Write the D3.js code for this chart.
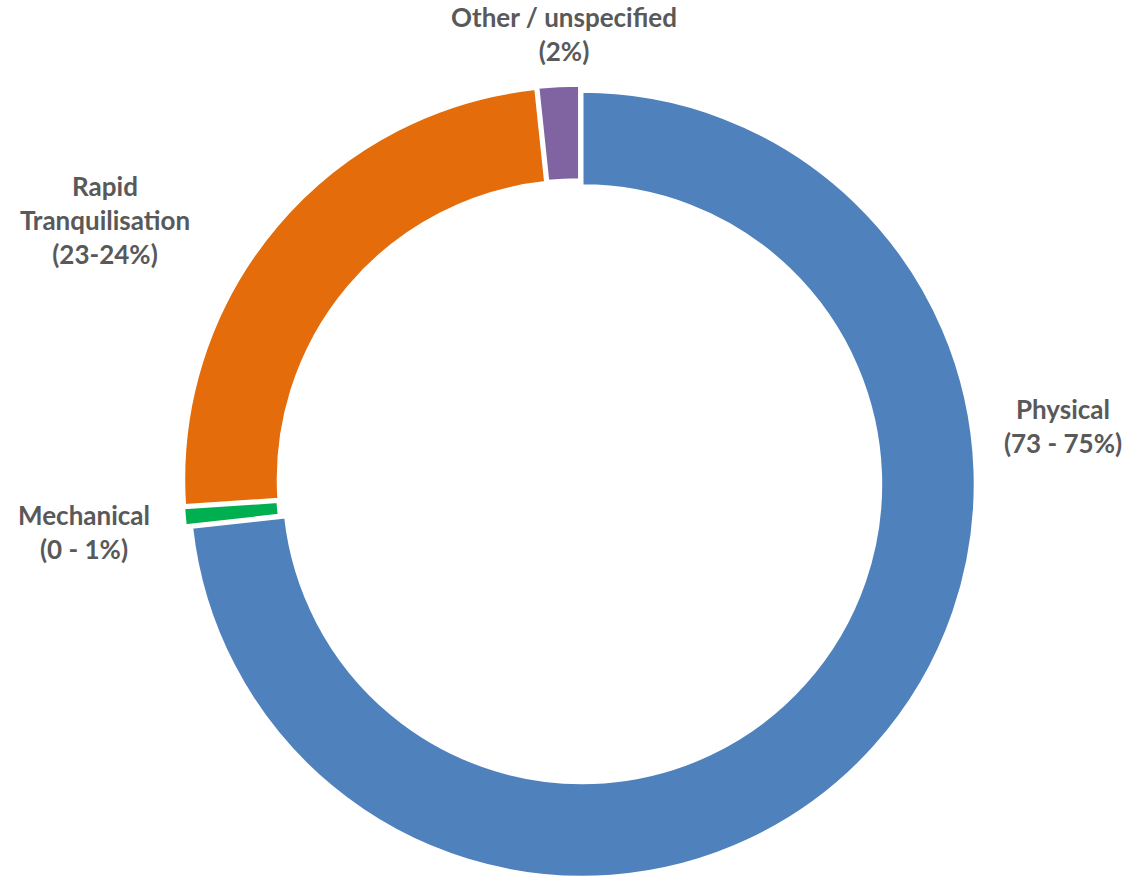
<!DOCTYPE html>
<html>
<head>
<meta charset="utf-8">
<script src="https://cdn.jsdelivr.net/npm/d3@7"></script>
<style>
  html, body { margin: 0; padding: 0; background: #ffffff; }
  svg { display: block; }
</style>
</head>
<body>
<svg id="chart" width="1126" height="877"></svg>
<script>
// ---- data ----
const categories = ["Physical", "Mechanical", "Rapid Tranquilisation", "Other / unspecified"];
const values = [73.24, 0.71, 24.38, 1.67];
const labelLines = [
  ["Physical", "(73 - 75%)"],
  ["Mechanical", "(0 - 1%)"],
  ["Rapid", "Tranquilisation", "(23-24%)"],
  ["Other / unspecified", "(2%)"]
];
const colors = ["#4F81BD", "#00B050", "#E46C0A", "#8064A2"];

// ---- layout (not data) ----
const W = 1126, H = 877;
const cx = 579.5, cy = 481.8;
const outerR = 392.7, innerR = 298.7;
const explode = 3.7;
const labelAnchors = [ // [centre x, first baseline y]
  [1063, 419],
  [84, 525],
  [105, 196],
  [564, 27]
];
const lineH = 34;

const svg = d3.select("#chart");
svg.append("rect").attr("width", W).attr("height", H).attr("fill", "#fff");

const pie = d3.pie().sort(null).value(d => d.v);
const data = categories.map((c, i) => ({ c, v: values[i], i }));
const arcs = pie(data);
const arc = d3.arc().innerRadius(innerR).outerRadius(outerR);

const g = svg.append("g").attr("transform", `translate(${cx},${cy})`);
g.selectAll("path.slice")
  .data(arcs)
  .join("path")
  .attr("class", "slice")
  .attr("d", arc)
  .attr("fill", d => colors[d.index])
  .attr("stroke", "#ffffff")
  .attr("stroke-width", 2.5)
  .attr("stroke-linejoin", "round")
  .attr("transform", d => {
    const a = (d.startAngle + d.endAngle) / 2;
    return `translate(${explode * Math.sin(a)},${-explode * Math.cos(a)})`;
  });

const labels = svg.append("g")
  .attr("font-family", "Lato, 'Open Sans', sans-serif")
  .attr("font-weight", 700)
  .attr("font-size", 26)
  .attr("fill", "#595959")
  .attr("text-anchor", "middle");

labelLines.forEach((lines, i) => {
  const [x, y] = labelAnchors[i];
  const t = labels.append("text");
  lines.forEach((ln, k) => {
    t.append("tspan").attr("x", x).attr("y", y + k * lineH).text(ln);
  });
});
</script>
</body>
</html>
